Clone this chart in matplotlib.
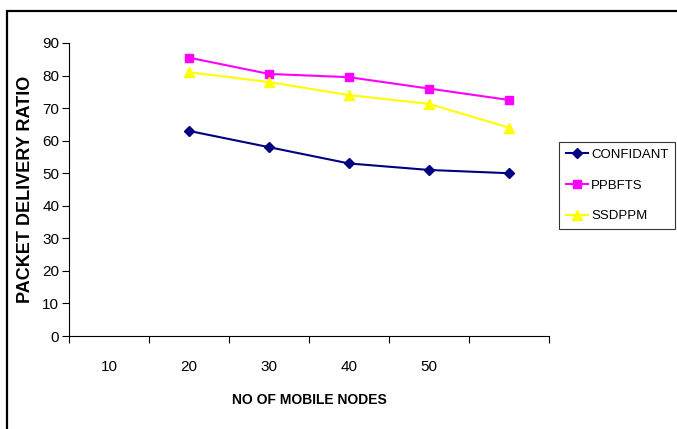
import matplotlib
matplotlib.use("Agg")
import matplotlib.pyplot as plt
from matplotlib.patches import Rectangle
from matplotlib.ticker import FixedLocator

categories = ["10", "20", "30", "40", "50", ""]
x_data_idx = [2, 3, 4, 5, 6]
confidant = [63, 58, 53, 51, 50]
ppbfts = [85.5, 80.5, 79.5, 76, 72.5]
ssdppm = [81, 78, 74, 71.3, 64]

plt.rcParams['font.family'] = ['Liberation Sans', 'DejaVu Sans']

fig = plt.figure(figsize=(6.77, 4.29), dpi=100)
fig.patch.set_facecolor('white')

# outer frame
fig.add_artist(Rectangle((6.5 / 677, -0.05), 1.1, (429 - 11) / 429 + 0.05,
                         transform=fig.transFigure, fill=False, edgecolor='black',
                         linewidth=1.6, clip_on=False))

ax = fig.add_axes([69 / 677, (429 - 336) / 429, (549 - 69) / 677, (336 - 43) / 429])

ax.plot(x_data_idx, confidant, color='#000080', marker='D', markersize=5.5, linewidth=1.5, label='CONFIDANT')
ax.plot(x_data_idx, ppbfts, color='#FF00FF', marker='s', markersize=6, linewidth=1.5, label='PPBFTS')
ax.plot(x_data_idx, ssdppm, color='#FFFF00', marker='^', markersize=7, linewidth=1.5, label='SSDPPM')

ax.set_xlim(0.5, 6.5)
ax.set_ylim(0, 90)
ax.set_yticks(range(0, 91, 10))
ax.set_xticks(range(1, 7))
ax.set_xticklabels(categories)
ax.xaxis.set_minor_locator(FixedLocator([0.5 + i for i in range(7)]))
ax.tick_params(axis='x', which='major', length=0, pad=17, labelsize=11)
ax.tick_params(axis='x', which='minor', length=5, width=0.8, direction='out')
ax.tick_params(axis='y', length=5, width=0.8, direction='out', labelsize=11, pad=2)

for s in ['top', 'right']:
    ax.spines[s].set_visible(False)
for s in ['left', 'bottom']:
    ax.spines[s].set_linewidth(0.8)

ax.set_xlabel('NO OF MOBILE NODES', fontsize=10, fontweight='bold', labelpad=14)
ax.set_ylabel('PACKET DELIVERY RATIO', fontsize=13, fontweight='bold', labelpad=6)

leg = fig.legend(loc='upper left', bbox_to_anchor=(559 / 677, (429 - 142) / 429),
                 bbox_transform=fig.transFigure, frameon=True, fancybox=False,
                 edgecolor='black', fontsize=9.5, handlelength=1.7, handletextpad=0.25,
                 borderpad=0.5, labelspacing=1.4, borderaxespad=0)
leg.get_frame().set_linewidth(0.8)

fig.savefig('out.png', dpi=100, facecolor='white')
